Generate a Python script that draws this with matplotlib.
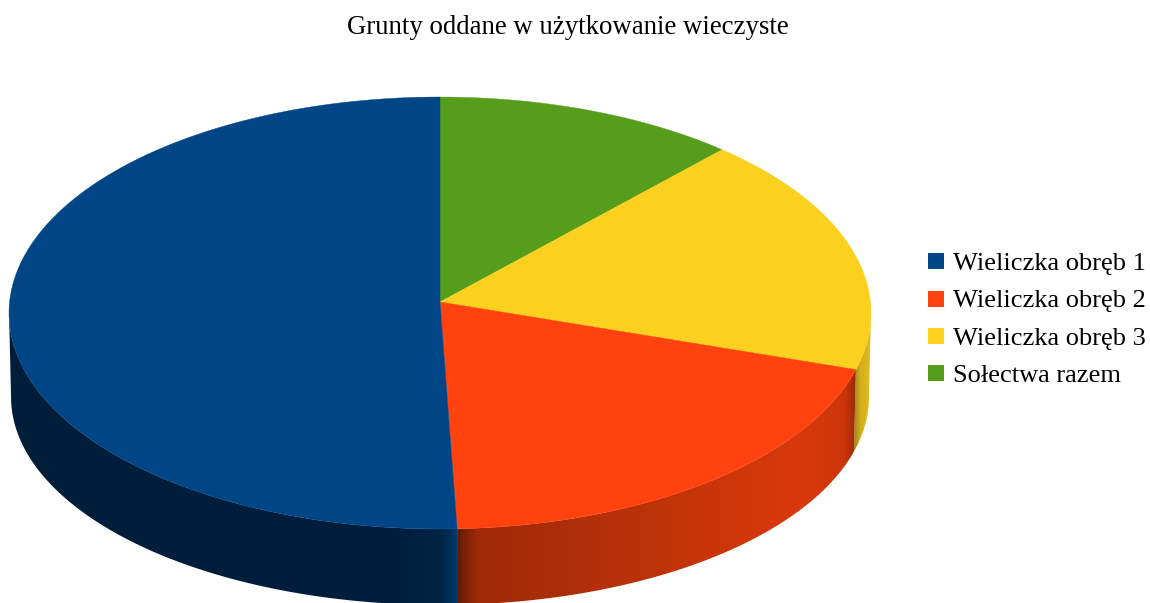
import numpy as np
import matplotlib
matplotlib.use("Agg")
import matplotlib.pyplot as plt
from matplotlib.colors import to_rgb
from matplotlib.patches import Polygon, Rectangle

title = "Grunty oddane w użytkowanie wieczyste"
categories = ["Wieliczka obręb 1", "Wieliczka obręb 2", "Wieliczka obręb 3", "Sołectwa razem"]
values = [50.6, 19.4, 18.1, 11.9]
colors = ["#004586", "#ff420e", "#fbd01f", "#579d1c"]
legend_colors = ["#004586", "#ff420e", "#ffd320", "#579d1c"]

W, H = 1150, 603
CX, CY = 440.0, 302.0
A, B, K = 215.4, 430.4, 0.0509
TOP_CY, TOP_RY, TOP_RX = 313.0, 216.0, 431.0
LOW_CY, LOW_RY, LOW_RX = 397.0, 208.0, 429.0
WALL_FROM, WALL_TO = np.radians(92.9), np.radians(267.1)

# wall shading stops, by screen x
wall_stops = {
    0: [(0, "#001d3a"), (400, "#001f3d"), (440, "#002344"), (450, "#00305a"), (458, "#003e72")],
    1: [(456, "#571808"), (464, "#7a2208"), (478, "#a02a08"), (560, "#ab2e08"), (680, "#c43409"),
        (800, "#d9390c"), (845, "#cc350b"), (858, "#8f2a0a")],
    2: [(855, "#a88c18"), (860, "#d4ae1c"), (872, "#e6bf1e")],
}


def rim(theta):
    """Clockwise from the top of the disc, with perspective foreshortening."""
    X, Y = np.sin(theta), np.cos(theta)
    d = 1 + K * Y
    return CX + B * X / d, CY - A * Y / d


def low_rim(theta):
    x, y = rim(theta)
    return CX + (x - CX) * LOW_RX / TOP_RX, LOW_CY + (y - TOP_CY) * LOW_RY / TOP_RY


plt.rcParams["font.family"] = ["Liberation Serif", "DejaVu Serif"]
fig = plt.figure(figsize=(W / 100, H / 100), dpi=100)
ax = fig.add_axes([0, 0, 1, 1])

# clockwise slices starting from the top: green, yellow, red, blue
order = [3, 2, 1, 0]
fracs = np.array([values[i] for i in order], float)
edges = np.concatenate([[0], np.cumsum(fracs) / fracs.sum() * 2 * np.pi])

# side walls: a horizontal colour ramp clipped to each wall's outline
for j, i in enumerate(order):
    if i not in wall_stops:
        continue
    lo, hi = max(edges[j], WALL_FROM), min(edges[j + 1], WALL_TO)
    if hi <= lo:
        continue
    t = np.linspace(lo, hi, 500)
    xt, yt = rim(t)
    xl, yl = low_rim(t)
    outline = np.column_stack([np.r_[xt, xl[::-1]], np.r_[yt, yl[::-1]]])
    x0, x1 = outline[:, 0].min() - 1, outline[:, 0].max() + 1
    xs = np.linspace(x0, x1, int(x1 - x0) * 2)
    sx, sc = zip(*wall_stops[i])
    rgb = np.array([to_rgb(c) for c in sc])
    ramp = np.stack([np.interp(xs, sx, rgb[:, k]) for k in range(3)], axis=-1)[None, :, :]
    im = ax.imshow(ramp, extent=(x0, x1, 700, 200), aspect="auto", interpolation="bilinear", zorder=2)
    patch = Polygon(outline, closed=True, transform=ax.transData, facecolor="none", edgecolor="none")
    ax.add_patch(patch)
    im.set_clip_path(patch)

ax.set_xlim(0, W)
ax.set_ylim(H, 0)
ax.axis("off")

# top faces
for j, i in enumerate(order):
    t = np.linspace(edges[j], edges[j + 1], 400)
    x, y = rim(t)
    pts = np.column_stack([np.r_[CX, x], np.r_[CY, y]])
    ax.add_patch(Polygon(pts, closed=True, facecolor=colors[i], edgecolor=colors[i], linewidth=0.3, zorder=3))

ax.text(568, 27.5, title, ha="center", va="center", fontsize=19.25, color="black")

legend_y = [261, 298.5, 336, 373]
for name, c, y in zip(categories, legend_colors, legend_y):
    ax.add_patch(Rectangle((928, y - 8), 16, 16, facecolor=c, edgecolor="none", zorder=3))
    ax.text(953, y + 3, name, ha="left", va="center", fontsize=19, color="black")

fig.savefig("out.png", dpi=100)
